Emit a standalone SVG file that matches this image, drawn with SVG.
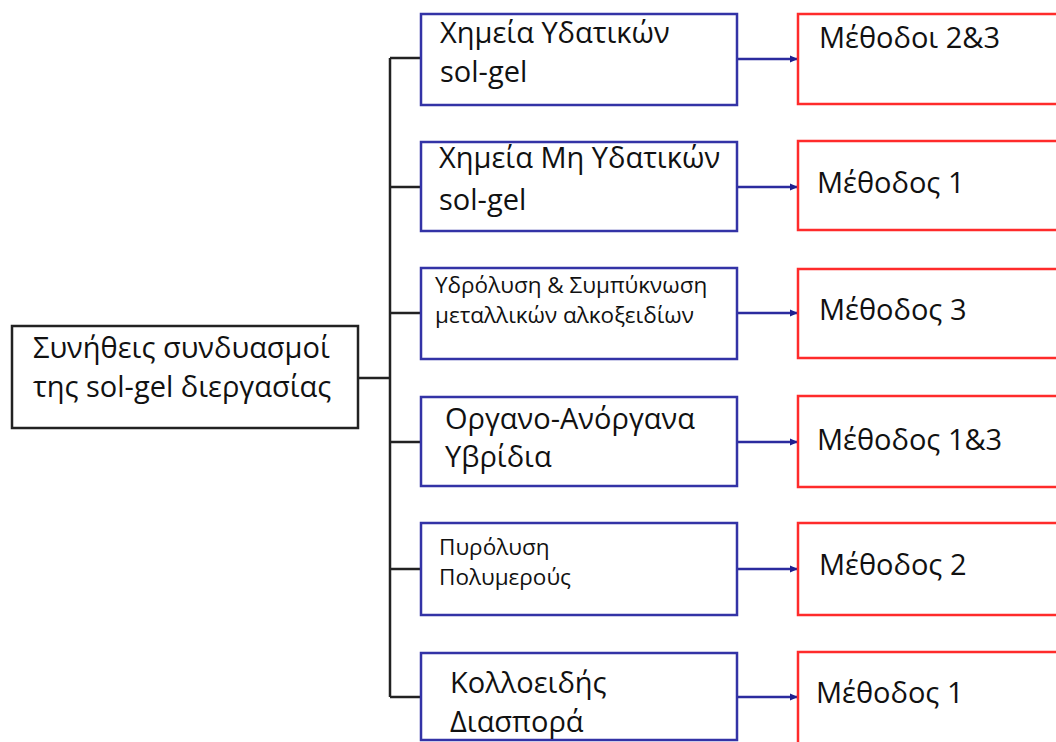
<svg xmlns="http://www.w3.org/2000/svg" width="1056" height="742" viewBox="0 0 1056 742">
<style>
text{font-family:"Open Sans","Liberation Sans",Arial,sans-serif;fill:#111;}
.big{font-size:29px;}
.small{font-size:22.5px;}
.root{fill:#fff;stroke:#222;stroke-width:2.5;}
.blue{fill:#fff;stroke:#3333a6;stroke-width:2.5;}
.red{fill:#fff;stroke:#ff2b2b;stroke-width:2.5;}
.tree{fill:none;stroke:#222;stroke-width:2.5;}
.arr{fill:none;stroke:#2b2b9e;stroke-width:2.5;marker-end:url(#ah);}
</style>
<defs>
<marker id="ah" markerWidth="8" markerHeight="8" refX="7" refY="4" orient="auto" markerUnits="userSpaceOnUse">
<path d="M0,0.5 L8,4 L0,7.5 Z" fill="#1f1f8f"/>
</marker>
</defs>
<rect width="1056" height="742" fill="#fff"/>
<g id="connectors">
<path class="tree" d="M358,378 H390 M390,58 V697 M390,58 H421 M390,187 H421 M390,313 H421 M390,442 H421 M390,569 H421 M390,697 H421"/>
<path class="arr" d="M737,59 H797"/>
<path class="arr" d="M737,187 H797"/>
<path class="arr" d="M737,313 H797"/>
<path class="arr" d="M737,442 H797"/>
<path class="arr" d="M737,569 H797"/>
<path class="arr" d="M737,697 H797"/>
</g>
<g id="root">
<rect class="root" x="12" y="326" width="346" height="102"/>
<text class="big" x="33" y="358">Συνήθεις συνδυασμοί</text>
<text class="big" x="33" y="397">της sol-gel διεργασίας</text>
</g>
<g id="n1">
<rect class="blue" x="421" y="14" width="316" height="91"/>
<text class="big" x="440" y="43">Χημεία Υδατικών</text>
<text class="big" x="440" y="82">sol-gel</text>
</g>
<g id="n2">
<rect class="blue" x="421" y="142" width="316" height="89"/>
<text class="big" x="439" y="168">Χημεία Μη Υδατικών</text>
<text class="big" x="439" y="210">sol-gel</text>
</g>
<g id="n3">
<rect class="blue" x="421" y="268" width="316" height="91"/>
<text class="small" x="435" y="293">Υδρόλυση &amp; Συμπύκνωση</text>
<text class="small" x="435" y="323">μεταλλικών αλκοξειδίων</text>
</g>
<g id="n4">
<rect class="blue" x="421" y="397" width="316" height="89"/>
<text class="big" x="445" y="429">Οργανο-Ανόργανα</text>
<text class="big" x="445" y="467">Υβρίδια</text>
</g>
<g id="n5">
<rect class="blue" x="421" y="523" width="316" height="92"/>
<text class="small" x="439" y="555">Πυρόλυση</text>
<text class="small" x="439" y="585">Πολυμερούς</text>
</g>
<g id="n6">
<rect class="blue" x="421" y="653" width="316" height="87"/>
<text class="big" x="450" y="693">Κολλοειδής</text>
<text class="big" x="450" y="732">Διασπορά</text>
</g>
<g id="m1">
<rect class="red" x="798" y="14" width="270" height="90"/>
<text class="big" x="819" y="48">Μέθοδοι 2&amp;3</text>
</g>
<g id="m2">
<rect class="red" x="798" y="141" width="270" height="89"/>
<text class="big" x="817" y="193">Μέθοδος 1</text>
</g>
<g id="m3">
<rect class="red" x="798" y="269" width="270" height="89"/>
<text class="big" x="819" y="320">Μέθοδος 3</text>
</g>
<g id="m4">
<rect class="red" x="798" y="396" width="270" height="91"/>
<text class="big" x="817" y="450">Μέθοδος 1&amp;3</text>
</g>
<g id="m5">
<rect class="red" x="798" y="523" width="270" height="92"/>
<text class="big" x="819" y="575">Μέθοδος 2</text>
</g>
<g id="m6">
<rect class="red" x="798" y="652" width="270" height="100"/>
<text class="big" x="816" y="703">Μέθοδος 1</text>
</g>
</svg>
